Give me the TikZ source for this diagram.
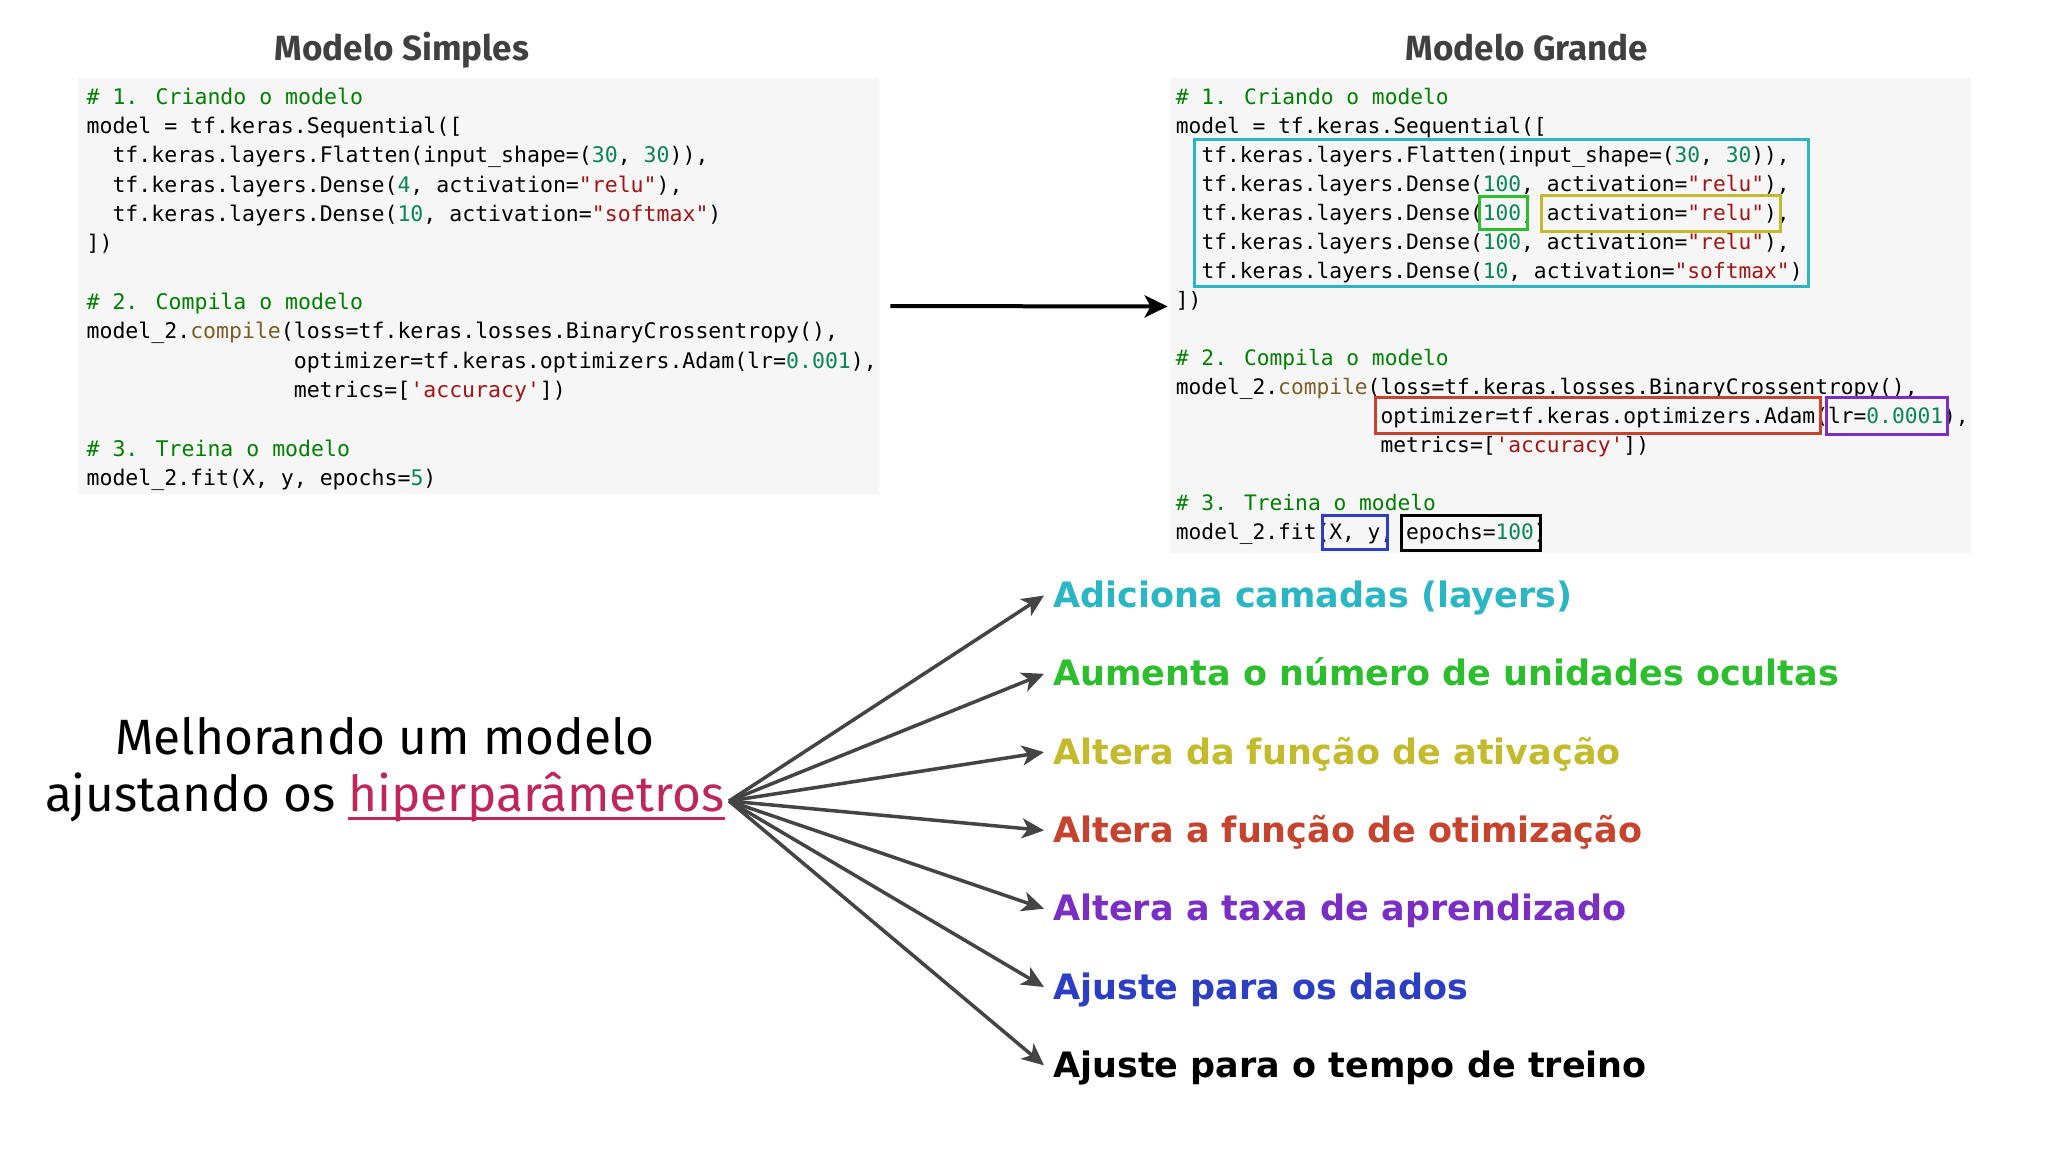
\documentclass[tikz,border=0pt]{standalone}
\usepackage{fontspec}
\usetikzlibrary{arrows.meta, positioning, calc}
\newfontfamily\codefont{DejaVu Sans Mono}[Ligatures=TeXOff]
\newfontfamily\labelfont{DejaVu Sans}
\newfontfamily\headfont{Fira Sans}
\definecolor{codebg}{RGB}{246,246,246}
\definecolor{comgreen}{RGB}{0,128,0}
\definecolor{numgreen}{RGB}{9,134,88}
\definecolor{strred}{RGB}{163,21,21}
\definecolor{funbrown}{RGB}{121,94,38}
\definecolor{titlegray}{RGB}{64,64,64}
\definecolor{arrowgray}{RGB}{68,68,68}
\definecolor{hipercrimson}{RGB}{190,38,92}
\definecolor{layercyan}{RGB}{43,182,196}
\definecolor{unitgreen}{RGB}{44,190,44}
\definecolor{actolive}{RGB}{196,187,44}
\definecolor{optred}{RGB}{198,68,46}
\definecolor{ratepurple}{RGB}{123,46,196}
\definecolor{datablue}{RGB}{44,62,196}
\newcommand{\ccom}[1]{\textcolor{comgreen}{#1}}
\newcommand{\cnum}[1]{\textcolor{numgreen}{#1}}
\newcommand{\cstr}[1]{\textcolor{strred}{#1}}
\newcommand{\cfun}[1]{\textcolor{funbrown}{#1}}
\newcommand{\hiperul}[1]{\setbox0\hbox{#1}\rlap{\rule[-4.5pt]{\wd0}{1.5pt}}\box0}

\begin{document}
\begin{tikzpicture}[
        x=0.5pt, y=-0.5pt,
        codebox/.style={rectangle, fill=codebg, inner sep=0pt},
        codeline/.style={anchor=base west, inner sep=0pt, font=\codefont\fontsize{10.76}{13}\selectfont},
        bigline/.style={codeline, font=\codefont\fontsize{10.62}{13}\selectfont},
        heading/.style={anchor=base, inner sep=0pt, text=titlegray, font=\headfont\bfseries\fontsize{17.5}{20}\selectfont},
        mainline/.style={anchor=base, inner sep=0pt, font=\headfont\fontsize{24.8}{28}\selectfont},
        hparam/.style={anchor=base west, inner xsep=4.5pt, inner ysep=0pt, text height=12pt, text depth=0pt, font=\labelfont\bfseries\fontsize{17.5}{20}\selectfont},
        hl/.style={line width=1.5pt},
        spoke/.style={-{Stealth[length=11pt, width=10pt, inset=3pt]}, line width=1.75pt, arrowgray},
        flow/.style={-{Stealth[length=11.5pt, width=11pt, inset=3pt]}, line width=2pt, black}
    ]
        \fill[white] (0,0) rectangle (2048,1152);
        \useasboundingbox (0,0) rectangle (2048,1152);

        % code panels
        \node[codebox, minimum width=400.3pt, minimum height=207.65pt] (simplebox) at (478.7,286.05) {};
        \node[codebox, minimum width=400.5pt, minimum height=237.05pt] (grandebox) at (1570.5,315.45) {};
        \node[heading] (simpletitle) at (402,60) {Modelo Simples};
        \node[heading] (grandetitle) at (1527,60) {Modelo Grande};

        % simple model
        \node[codeline] (s0) at (86.2,104.1) {\ccom{\# 1. Criando o modelo}};
        \node[codeline] (s1) at (86.2,133.4) {model = tf.keras.Sequential([};
        \node[codeline] (s2) at (112.1,162.8) {tf.keras.layers.Flatten(input\_shape=(\cnum{30}, \cnum{30})),};
        \node[codeline] (s3) at (112.1,192.1) {tf.keras.layers.Dense(\cnum{4}, activation=\cstr{"relu"}),};
        \node[codeline] (s4) at (112.1,221.4) {tf.keras.layers.Dense(\cnum{10}, activation=\cstr{"softmax"})};
        \node[codeline] (s5) at (86.2,250.8) {])};
        \node[codeline] (s7) at (86.2,309.4) {\ccom{\# 2. Compila o modelo}};
        \node[codeline] (s8) at (86.2,338.7) {model\_2.\cfun{compile}(loss=tf.keras.losses.BinaryCrossentropy(),};
        \node[codeline] (s9) at (293.4,368.1) {optimizer=tf.keras.optimizers.Adam(lr=\cnum{0.001}),};
        \node[codeline] (s10) at (293.4,397.4) {metrics=[\cstr{'accuracy'}])};
        \node[codeline] (s12) at (86.2,456.1) {\ccom{\# 3. Treina o modelo}};
        \node[codeline] (s13) at (86.2,485.4) {model\_2.fit(X, y, epochs=\cnum{5})};

        % big model
        \node[bigline] (g0) at (1175.5,104.1) {\ccom{\# 1. Criando o modelo}};
        \node[bigline] (g1) at (1175.5,133.1) {model = tf.keras.Sequential([};
        \node[bigline] (g2) at (1201.1,162.1) {tf.keras.layers.Flatten(input\_shape=(\cnum{30}, \cnum{30})),};
        \node[bigline] (g3) at (1201.1,191.1) {tf.keras.layers.Dense(\cnum{100}, activation=\cstr{"relu"}),};
        \node[bigline] (g4) at (1201.1,220.1) {tf.keras.layers.Dense(\cnum{100}, activation=\cstr{"relu"}),};
        \node[bigline] (g5) at (1201.1,249.1) {tf.keras.layers.Dense(\cnum{100}, activation=\cstr{"relu"}),};
        \node[bigline] (g6) at (1201.1,278.1) {tf.keras.layers.Dense(\cnum{10}, activation=\cstr{"softmax"})};
        \node[bigline] (g7) at (1175.5,307.1) {])};
        \node[bigline] (g9) at (1175.5,365.1) {\ccom{\# 2. Compila o modelo}};
        \node[bigline] (g10) at (1175.5,394.1) {model\_2.\cfun{compile}(loss=tf.keras.losses.BinaryCrossentropy(),};
        \node[bigline] (g11) at (1380.1,423.1) {optimizer=tf.keras.optimizers.Adam(lr=\cnum{0.0001}),};
        \node[bigline] (g12) at (1380.1,452.1) {metrics=[\cstr{'accuracy'}])};
        \node[bigline] (g14) at (1175.5,510.1) {\ccom{\# 3. Treina o modelo}};
        \node[bigline] (g15) at (1175.5,539.1) {model\_2.fit(X, y, epochs=\cnum{100})};

        % highlights
        \draw[hl, layercyan] (1194,139.5) rectangle (1808,286);
        \draw[hl, unitgreen] (1479,196) rectangle (1527,229);
        \draw[hl, actolive] (1541,195) rectangle (1780,231);
        \draw[hl, optred] (1375,397) rectangle (1820,433);
        \draw[hl, ratepurple] (1826,397) rectangle (1947,434);
        \draw[hl, datablue] (1322,515) rectangle (1387,549);
        \draw[hl, black] (1401,515) rectangle (1540,550);

        \draw[flow] ([shift={(11,20)}]simplebox.east) -- ([shift={(-2,-9)}]grandebox.west);

        % hyperparameters
        \node[mainline] (main1) at (385,754) {Melhorando um modelo};
        \node[mainline] (main2) at (385,811) {ajustando os \textcolor{hipercrimson}{\hiperul{hiperparâmetros}}};
        \coordinate (hub) at ([shift={(4,-10)}]main2.base east);

        \node[hparam, text=layercyan] (layers) at (1044,607.5) {Adiciona camadas (layers)};
        \node[hparam, text=unitgreen] (units) at (1044,685.8) {Aumenta o número de unidades ocultas};
        \node[hparam, text=actolive] (activation) at (1044,764.1) {Altera da função de ativação};
        \node[hparam, text=optred] (optimizer) at (1044,842.4) {Altera a função de otimização};
        \node[hparam, text=ratepurple] (rate) at (1044,920.7) {Altera a taxa de aprendizado};
        \node[hparam, text=datablue] (data) at (1044,999) {Ajuste para os dados};
        \node[hparam, text=black] (epochs) at (1044,1077.3) {Ajuste para o tempo de treino};

        \draw[spoke] (hub) -- (layers.west);
        \draw[spoke] (hub) -- (units.west);
        \draw[spoke] (hub) -- (activation.west);
        \draw[spoke] (hub) -- (optimizer.west);
        \draw[spoke] (hub) -- (rate.west);
        \draw[spoke] (hub) -- (data.west);
        \draw[spoke] (hub) -- (epochs.west);
    \end{tikzpicture}
\end{document}
